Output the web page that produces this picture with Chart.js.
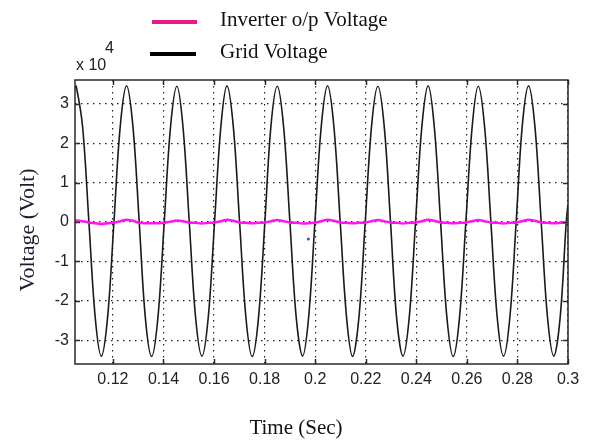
<!DOCTYPE html>
<html>
<head>
<meta charset="utf-8">
<script src="https://cdn.jsdelivr.net/npm/chart.js@4.4.1/dist/chart.umd.min.js"></script>
<style>
  html, body { margin: 0; padding: 0; background: #ffffff; }
  #wrap { width: 590px; height: 442px; }
</style>
</head>
<body>
<div id="wrap"><canvas id="c" width="590" height="442"></canvas></div>
<script>
// ---- data (voltages in units of 10^4 V) ----
const seriesNames = ['Inverter o/p Voltage', 'Grid Voltage'];

const time = [
  0.105, 0.1055, 0.1080, 0.1105, 0.1130, 0.1154, 0.1179, 0.1204, 0.1229,
  0.1254, 0.1279, 0.1304, 0.1328, 0.1353, 0.1378, 0.1403, 0.1428,
  0.1453, 0.1477, 0.1502, 0.1527, 0.1552, 0.1577, 0.1602, 0.1627,
  0.1651, 0.1676, 0.1701, 0.1726, 0.1751, 0.1776, 0.1801, 0.1825,
  0.1850, 0.1875, 0.1900, 0.1925, 0.1950, 0.1974, 0.1999, 0.2024,
  0.2049, 0.2074, 0.2099, 0.2124, 0.2148, 0.2173, 0.2198, 0.2223,
  0.2248, 0.2273, 0.2298, 0.2322, 0.2347, 0.2372, 0.2397, 0.2422,
  0.2447, 0.2471, 0.2496, 0.2521, 0.2546, 0.2571, 0.2596, 0.2621,
  0.2645, 0.2670, 0.2695, 0.2720, 0.2745, 0.2770, 0.2795, 0.2819,
  0.2844, 0.2869, 0.2894, 0.2919, 0.2944, 0.2969, 0.2993, 0.3000
];

const gridVoltage = [
  3.40, 3.44, 2.42, 0.00, -2.42, -3.40, -2.41, 0.00, 2.43,
  3.45, 2.43, 0.00, -2.41, -3.41, -2.42, 0.00, 2.42,
  3.44, 2.42, 0.00, -2.42, -3.40, -2.42, 0.00, 2.42,
  3.45, 2.43, 0.00, -2.42, -3.41, -2.41, 0.00, 2.43,
  3.44, 2.42, 0.00, -2.42, -3.40, -2.42, 0.00, 2.42,
  3.45, 2.42, 0.00, -2.41, -3.41, -2.42, 0.00, 2.43,
  3.44, 2.43, 0.00, -2.42, -3.40, -2.42, 0.00, 2.42,
  3.45, 2.42, 0.00, -2.42, -3.41, -2.41, 0.00, 2.42,
  3.44, 2.42, 0.00, -2.42, -3.40, -2.42, 0.00, 2.43,
  3.45, 2.43, 0.00, -2.42, -3.40, -2.42, 0.00, 0.45
];

const inverterVoltage = [
  0.03, 0.04, 0.02, -0.01, -0.03, -0.05, -0.03, -0.01, 0.02,
  0.06, 0.03, -0.02, -0.03, -0.03, -0.03, -0.02, 0.01,
  0.04, 0.02, -0.01, -0.02, -0.04, -0.02, -0.01, 0.02,
  0.06, 0.03, -0.01, -0.02, -0.03, -0.02, -0.01, 0.02,
  0.05, 0.02, -0.01, -0.02, -0.04, -0.03, -0.01, 0.02,
  0.06, 0.03, -0.01, -0.02, -0.03, -0.02, -0.01, 0.02,
  0.05, 0.02, -0.01, -0.02, -0.04, -0.02, -0.01, 0.02,
  0.06, 0.03, -0.01, -0.02, -0.03, -0.02, -0.01, 0.02,
  0.05, 0.02, -0.01, -0.02, -0.04, -0.02, -0.01, 0.02,
  0.06, 0.03, -0.01, -0.02, -0.03, -0.02, -0.01, 0.01
];

const strayPointTime = [0.1973];
const strayPointValue = [-0.43];

const xTickValues = [0.12, 0.14, 0.16, 0.18, 0.2, 0.22, 0.24, 0.26, 0.28, 0.3];
const xTickLabels = ['0.12', '0.14', '0.16', '0.18', '0.2', '0.22', '0.24', '0.26', '0.28', '0.3'];
const yTickValues = [-3, -2, -1, 0, 1, 2, 3];
const yTickLabels = ['-3', '-2', '-1', '0', '1', '2', '3'];
const yExponentLabel = ['x 10', '4'];
const axisTitles = { x: 'Time (Sec)', y: 'Voltage (Volt)' };

// ---- build ----
const toXY = (xs, ys) => xs.map((v, i) => ({ x: v, y: ys[i] }));

const legendColors = ['#e8198b', '#000000'];
const sansFamily = '"Liberation Sans", Arial, sans-serif';
const serifFamily = '"Liberation Serif", "Times New Roman", serif';
const tickFont = { family: sansFamily, size: 16 };

const decor = {
  id: 'decor',
  afterDraw(chart) {
    const { ctx, chartArea: a, scales: { x, y } } = chart;
    ctx.save();
    // frame
    ctx.strokeStyle = '#2a2a2a';
    ctx.lineWidth = 1.5;
    ctx.strokeRect(a.left, a.top, a.right - a.left, a.bottom - a.top);
    // inside ticks on all four sides
    ctx.beginPath();
    xTickValues.forEach(v => {
      const p = Math.round(x.getPixelForValue(v)) + 0.5;
      ctx.moveTo(p, a.bottom); ctx.lineTo(p, a.bottom - 5);
      ctx.moveTo(p, a.top); ctx.lineTo(p, a.top + 5);
    });
    yTickValues.forEach(v => {
      const p = Math.round(y.getPixelForValue(v)) + 0.5;
      ctx.moveTo(a.left, p); ctx.lineTo(a.left + 5, p);
      ctx.moveTo(a.right, p); ctx.lineTo(a.right - 5, p);
    });
    ctx.stroke();
    // exponent label
    ctx.fillStyle = '#222';
    ctx.textBaseline = 'alphabetic';
    ctx.textAlign = 'left';
    ctx.font = '16px ' + sansFamily;
    ctx.fillText(yExponentLabel[0], a.left + 1, 70);
    ctx.fillText(yExponentLabel[1], a.left + 30, 53);
    // axis titles
    ctx.fillStyle = '#111';
    ctx.textAlign = 'center';
    ctx.textBaseline = 'middle';
    ctx.font = '21px ' + serifFamily;
    ctx.fillText(axisTitles.x, 296, 428);
    ctx.save();
    ctx.translate(28, 230);
    ctx.rotate(-Math.PI / 2);
    ctx.fillStyle = '#1c1c30';
    ctx.font = '22px ' + serifFamily;
    ctx.fillText(axisTitles.y, 0, 0);
    ctx.restore();
    // legend
    const rows = [
      { y: 22, base: 26, x0: 152, x1: 197 },
      { y: 54, base: 58, x0: 150, x1: 196 }
    ];
    ctx.textAlign = 'left';
    ctx.textBaseline = 'alphabetic';
    chart.data.datasets.slice(0, 2).forEach((ds, i) => {
      const r = rows[i];
      ctx.strokeStyle = legendColors[i];
      ctx.lineWidth = 4;
      ctx.beginPath();
      ctx.moveTo(r.x0, r.y); ctx.lineTo(r.x1, r.y);
      ctx.stroke();
      ctx.fillStyle = '#111';
      ctx.font = '21px ' + serifFamily;
      ctx.fillText(ds.label, 220, r.base);
    });
    ctx.restore();
  }
};

new Chart(document.getElementById('c'), {
  type: 'line',
  data: {
    datasets: [
      {
        label: seriesNames[0],
        data: toXY(time, inverterVoltage),
        borderColor: '#ff14f0',
        borderWidth: 2.5,
        pointRadius: 0,
        tension: 0.3,
        fill: false
      },
      {
        label: seriesNames[1],
        data: toXY(time, gridVoltage),
        borderColor: '#1a1a1a',
        borderWidth: 1.6,
        pointRadius: 0,
        tension: 0.35,
        fill: false
      },
      {
        label: 'stray',
        data: toXY(strayPointTime, strayPointValue),
        showLine: false,
        pointRadius: 1.5,
        pointBackgroundColor: '#3344ff',
        pointBorderWidth: 0
      }
    ]
  },
  options: {
    responsive: false,
    animation: false,
    devicePixelRatio: 1,
    layout: { padding: { top: 80, right: 22, left: 0, bottom: 0 } },
    plugins: { legend: { display: false }, tooltip: { enabled: false } },
    scales: {
      x: {
        type: 'linear',
        min: 0.105,
        max: 0.3,
        afterBuildTicks: s => { s.ticks = xTickValues.map(v => ({ value: v })); },
        afterFit: s => { s.height = 78; },
        ticks: {
          autoSkip: false,
          maxRotation: 0,
          padding: 6,
          color: '#222',
          font: tickFont,
          callback: (v, i) => xTickLabels[i]
        },
        grid: { color: '#222', lineWidth: 1.2, drawTicks: false },
        border: { display: false, dash: [1.5, 4.5] },
        title: { display: false, text: axisTitles.x }
      },
      y: {
        type: 'linear',
        min: -3.6,
        max: 3.6,
        afterBuildTicks: s => { s.ticks = yTickValues.map(v => ({ value: v })); },
        afterFit: s => { s.width = 75; },
        ticks: {
          autoSkip: false,
          padding: 6,
          color: '#222',
          font: tickFont,
          callback: (v, i) => yTickLabels[i]
        },
        grid: { color: '#222', lineWidth: 1.2, drawTicks: false },
        border: { display: false, dash: [1.5, 4.5] },
        title: { display: false, text: axisTitles.y }
      }
    }
  },
  plugins: [decor]
});
</script>
</body>
</html>
